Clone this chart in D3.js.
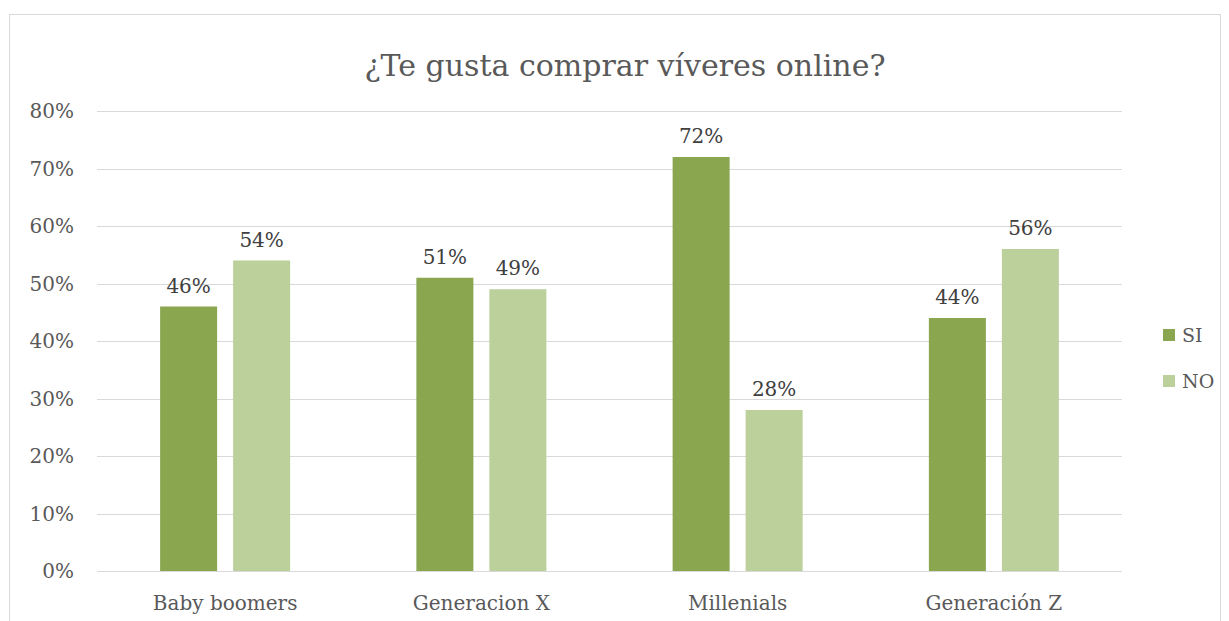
<!DOCTYPE html>
<meta charset="utf-8">
<style>
body { margin: 0; background: #fff; }
text { font-family: "DejaVu Serif", "Liberation Serif", serif; fill: #595959; }
.grid line { stroke: #d9d9d9; stroke-width: 1; }
</style>
<body>
<svg width="1229" height="621"></svg>
<script src="https://cdn.jsdelivr.net/npm/d3@7"></script>
<script>
var categories = ["Baby boomers", "Generacion X", "Millenials", "Generación Z"];
var seriesNames = ["SI", "NO"];
var si = [46, 51, 72, 44];
var no = [54, 49, 28, 56];
var yTicks = [0, 10, 20, 30, 40, 50, 60, 70, 80];
var colors = ["#8aa64f", "#bbd09a"];

var svg = d3.select("svg");

// chart border
svg.append("rect")
    .attr("x", 9.5).attr("y", 14.5)
    .attr("width", 1211).attr("height", 640)
    .attr("fill", "#fff").attr("stroke", "#d9d9d9");

var plotL = 97, plotR = 1122, plotT = 111, plotB = 571;

var x = d3.scaleBand().domain(categories).range([plotL, plotR]);
var y = d3.scaleLinear().domain([0, 80]).range([plotB, plotT]);

// gridlines
svg.append("g").attr("class", "grid")
  .selectAll("line").data(yTicks).enter().append("line")
    .attr("x1", plotL).attr("x2", plotR)
    .attr("y1", d => Math.round(y(d)) + 0.5)
    .attr("y2", d => Math.round(y(d)) + 0.5);

// y labels
svg.append("g").selectAll("text").data(yTicks).enter().append("text")
    .attr("x", 74).attr("y", d => y(d) + 7)
    .attr("text-anchor", "end")
    .style("font-size", "20px")
    .text(d => d + "%");

// bars
var data = [si, no];
var barW = 57, offsets = [-36.5, 36.5];
data.forEach(function(vals, s) {
    var g = svg.append("g");
    g.selectAll("rect").data(vals).enter().append("rect")
        .attr("x", (d, i) => x(categories[i]) + x.bandwidth() / 2 + offsets[s] - barW / 2)
        .attr("y", d => y(d))
        .attr("width", barW)
        .attr("height", d => y(0) - y(d))
        .attr("fill", colors[s]);
    g.selectAll("text").data(vals).enter().append("text")
        .attr("x", (d, i) => x(categories[i]) + x.bandwidth() / 2 + offsets[s])
        .attr("y", d => y(d) - 14)
        .attr("text-anchor", "middle")
        .style("font-size", "20px")
        .style("fill", "#404040")
        .text(d => d + "%");
});

// category labels
svg.append("g").selectAll("text").data(categories).enter().append("text")
    .attr("x", d => x(d) + x.bandwidth() / 2)
    .attr("y", 610)
    .attr("text-anchor", "middle")
    .style("font-size", "20px")
    .text(d => d);

// title
svg.append("text")
    .attr("x", 625).attr("y", 76)
    .attr("text-anchor", "middle")
    .style("font-size", "30px")
    .text("¿Te gusta comprar víveres online?");

// legend
seriesNames.forEach(function(n, i) {
    var ly = 329 + i * 46;
    svg.append("rect").attr("x", 1163).attr("y", ly)
        .attr("width", 12).attr("height", 12).attr("fill", colors[i]);
    svg.append("text").attr("x", 1182).attr("y", ly + 13)
        .style("font-size", "19px").text(n);
});
</script>
</body>
